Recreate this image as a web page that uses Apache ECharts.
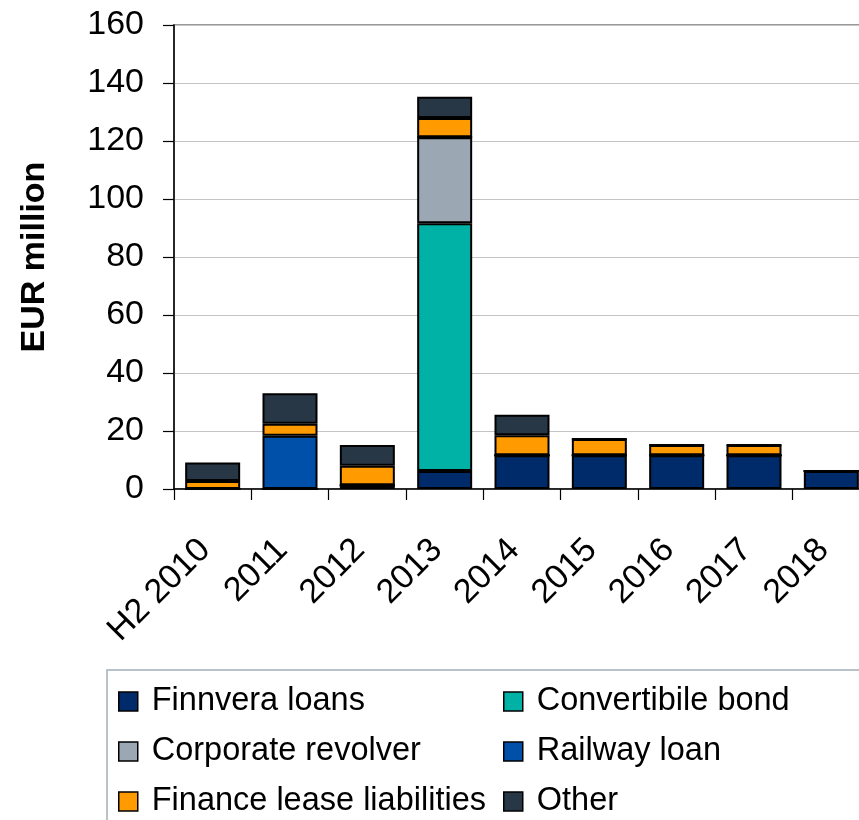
<!DOCTYPE html>
<html>
<head>
<meta charset="utf-8">
<script src="https://cdn.jsdelivr.net/npm/echarts@6/dist/echarts.min.js"></script>
<style>
  html, body { margin: 0; padding: 0; background: #ffffff; }
  #chart { width: 859px; height: 820px; }
</style>
</head>
<body>
<div id="chart"></div>
<script>
// Debt repayment schedule by instrument, EUR million
const years = ['H2 2010', '2011', '2012', '2013', '2014', '2015', '2016', '2017', '2018'];

const finnvera    = [0,   0,    1.3, 6.2,  11.6, 11.6, 11.6, 11.6, 6.2];
const convertible = [0,   0,    0,   85.4, 0,    0,    0,    0,    0];
const revolver    = [0,   0,    0,   29.7, 0,    0,    0,    0,    0];
const railway     = [0,   18.4, 0,   0,    0,    0,    0,    0,    0];
const finLease    = [2.8, 4.1,  6.7, 6.6,  6.9,  5.6,  3.6,  3.6,  0];
const other       = [6.3, 10.5, 7.2, 7.4,  7.1,  0,    0,    0,    0];

const yTicks = [0, 20, 40, 60, 80, 100, 120, 140, 160];

const seriesDefs = [
  { name: 'Finnvera loans',              data: finnvera,    color: '#002b6b' },
  { name: 'Convertibile bond',           data: convertible, color: '#00b2a5' },
  { name: 'Corporate revolver',          data: revolver,    color: '#9ba7b2' },
  { name: 'Railway loan',                data: railway,     color: '#004fa8' },
  { name: 'Finance lease liabilities',   data: finLease,    color: '#ff9a00' },
  { name: 'Other',                       data: other,       color: '#283746' }
];

const FONT = '"Liberation Sans", Arial, sans-serif';

const chart = echarts.init(document.getElementById('chart'), null, { renderer: 'canvas' });

const legendText = { fontFamily: FONT, fontSize: 32.5, color: '#000000', padding: [0, 0, 0, 9] };
const legendCommon = {
  orient: 'vertical',
  top: 685,
  height: 200,
  padding: 0,
  itemWidth: 19,
  itemHeight: 19,
  itemGap: 17,
  icon: 'rect',
  textStyle: legendText,
  itemStyle: { borderColor: '#000000', borderWidth: 1.5 },
  selectedMode: false
};

chart.setOption({
  animation: false,
  backgroundColor: '#ffffff',
  grid: {
    left: 174,
    top: 25,
    width: 696,
    height: 464,
    containLabel: false,
    outerBoundsMode: 'none',
    show: true,
    borderColor: '#9a9a9a',
    borderWidth: 2,
    backgroundColor: 'transparent'
  },
  graphic: [{
    type: 'rect',
    shape: { x: 107, y: 670, width: 780, height: 170 },
    style: { fill: 'none', stroke: '#a3adb8', lineWidth: 1.5 },
    silent: true
  }],
  legend: [
    Object.assign({}, legendCommon, {
      left: 118,
      data: ['Finnvera loans', 'Corporate revolver', 'Finance lease liabilities']
    }),
    Object.assign({}, legendCommon, {
      left: 503,
      data: ['Convertibile bond', 'Railway loan', 'Other']
    })
  ],
  xAxis: {
    type: 'category',
    data: years,
    axisLine: { lineStyle: { color: '#000000', width: 1.5 } },
    axisTick: { show: true, length: 11, lineStyle: { color: '#000000', width: 1.2 } },
    axisLabel: {
      rotate: 45,
      margin: 48,
      padding: [0, 11, 0, 0],
      fontFamily: FONT,
      fontSize: 34,
      color: '#000000',
      interval: 0
    }
  },
  yAxis: {
    type: 'value',
    min: yTicks[0],
    max: yTicks[yTicks.length - 1],
    interval: 20,
    name: 'EUR million',
    nameLocation: 'middle',
    nameGap: 122,
    nameRotate: 90,
    nameTextStyle: { fontFamily: FONT, fontSize: 34, fontWeight: 'bold', color: '#000000' },
    axisLine: { show: true, lineStyle: { color: '#000000', width: 1.5 } },
    axisTick: { show: true, length: 11, lineStyle: { color: '#000000', width: 1.2 } },
    axisLabel: { margin: 30, fontFamily: FONT, fontSize: 34, color: '#000000' },
    splitLine: { show: true, lineStyle: { color: '#c4c4c4', width: 1.2 } }
  },
  series: seriesDefs.map(s => ({
    name: s.name,
    type: 'bar',
    stack: 'debt',
    barWidth: 55,
    data: s.data,
    itemStyle: { color: s.color, borderColor: '#000000', borderWidth: 2 },
    emphasis: { disabled: true }
  }))
});
</script>
</body>
</html>
